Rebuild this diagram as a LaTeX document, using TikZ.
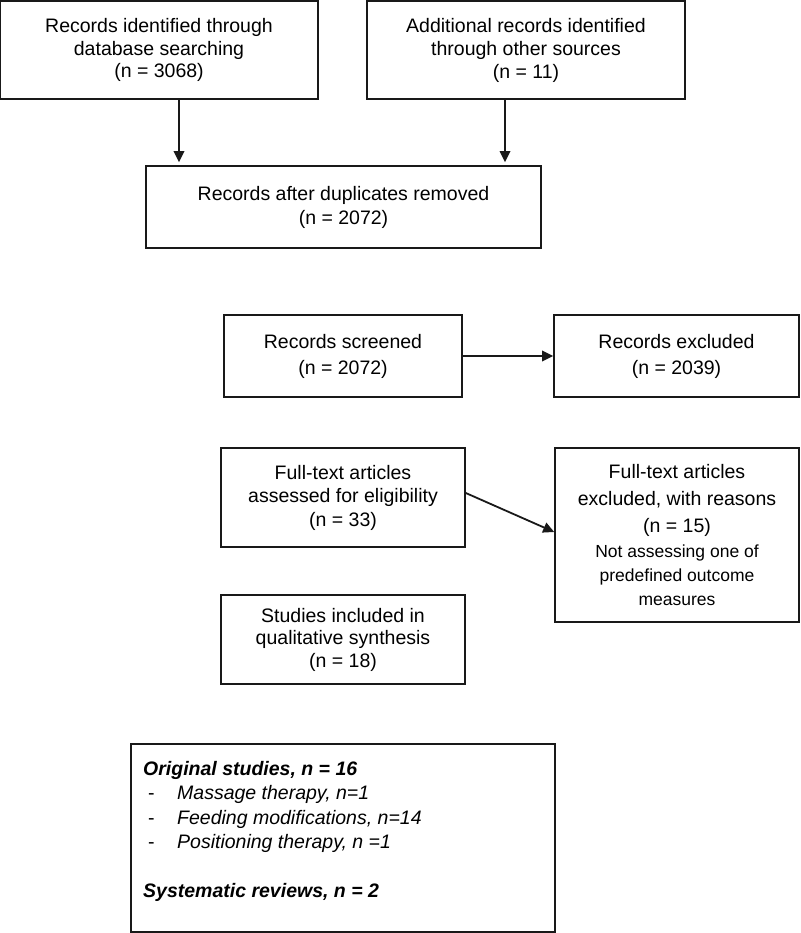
\documentclass[tikz,border=0pt]{standalone}
\usepackage{fontspec}
\setmainfont{Liberation Sans}
\usetikzlibrary{arrows.meta}
\begin{document}
\begin{tikzpicture}[x=1pt,y=-1pt,
  box/.style={draw=black!90, line width=1.6pt, inner sep=0pt, align=center},
  arr/.style={draw=black!90, line width=1.8pt, -{Triangle[length=11pt,width=10.5pt]}}]
\useasboundingbox (0,0) rectangle (800,933);
\fill[white] (0,0) rectangle (800,933);

\node[box, minimum width=318pt, minimum height=98pt, font=\fontsize{19.5}{22.2}\selectfont] (rid) at (159,50) {Records identified through\\database searching\\(n = 3068)};
\node[box, minimum width=318pt, minimum height=98pt, font=\fontsize{19.5}{23}\selectfont] (add) at (526,50) {Additional records identified\\through other sources\\(n = 11)};
\node[box, minimum width=395pt, minimum height=82pt, font=\fontsize{19.5}{24}\selectfont] (dup) at (343.5,207) {Records after duplicates removed\\(n = 2072)};
\node[box, minimum width=238pt, minimum height=82pt, font=\fontsize{19.5}{26}\selectfont] (scr) at (343,356) {Records screened\\(n = 2072)};
\node[box, minimum width=245pt, minimum height=82pt, font=\fontsize{19.5}{26}\selectfont] (rex) at (676.5,356) {Records excluded\\(n = 2039)};
\node[box, minimum width=244pt, minimum height=99pt, font=\fontsize{19.5}{23.5}\selectfont] (ass) at (343,497.5) {Full-text articles\\assessed for eligibility\\(n = 33)};
\node[box, minimum width=244pt, minimum height=174pt, font=\fontsize{19.5}{27}\selectfont] (fex) at (677,535) {Full-text articles\\excluded, with reasons\\(n = 15)\\[-2pt]{\fontsize{17.5}{21}\selectfont Not assessing one of}\\[-3pt]{\fontsize{17.5}{21}\selectfont predefined outcome}\\[-3pt]{\fontsize{17.5}{21}\selectfont measures}};
\node[box, minimum width=244pt, minimum height=89pt, font=\fontsize{19.5}{22.5}\selectfont] (inc) at (343,639.5) {Studies included in\\qualitative synthesis\\(n = 18)};
\node[box, minimum width=424pt, minimum height=188pt] (fin) at (343,838) {};
\node[anchor=north west, inner sep=0pt, align=left, font=\fontsize{19.5}{24.5}\selectfont] (fintxt) at (143,761) {\textbf{\textit{Original studies, n = 16}}\\\makebox[34pt][l]{\hspace{5pt}-}\textit{Massage therapy, n=1}\\\makebox[34pt][l]{\hspace{5pt}-}\textit{Feeding modifications, n=14}\\\makebox[34pt][l]{\hspace{5pt}-}\textit{Positioning therapy, n =1}\\[24.5pt]\textbf{\textit{Systematic reviews, n = 2}}};

\path ([xshift=20pt]rid.south) coordinate (a1);
\draw[arr, shorten >=3pt] (a1) -- (a1 |- dup.north);
\path ([xshift=-21pt]add.south) coordinate (a2);
\draw[arr, shorten >=3pt] (a2) -- (a2 |- dup.north);
\draw[arr] (scr.east) -- (rex.west);
\draw[arr] ([yshift=4.5pt]ass.east) -- ([yshift=3pt]fex.west);
\end{tikzpicture}
\end{document}
